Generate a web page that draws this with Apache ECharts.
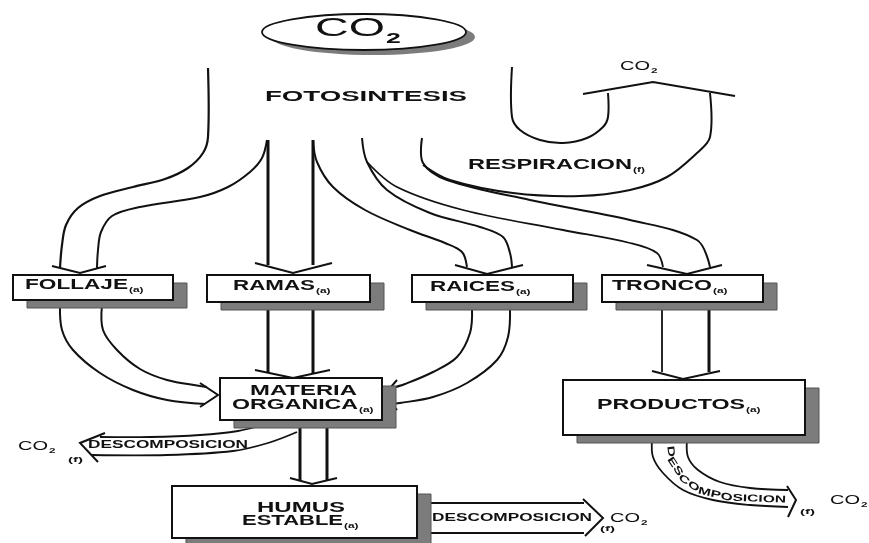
<!DOCTYPE html>
<html lang="es">
<head>
<meta charset="UTF-8">
<title>Flujo de carbono</title>
<script src="https://cdn.jsdelivr.net/npm/echarts@6/dist/echarts.min.js"></script>
<style>
    html, body { margin: 0; padding: 0; background: #fff; }
    #main { width: 869px; height: 543px; }
</style>
</head>
<body>
<div id="main"></div>
<script>
    // cajas del diagrama (coordenadas en unidades del eje, 0..869 x 0..543)
    var boxNames = ['FOLLAJE', 'RAMAS', 'RAICES', 'TRONCO', 'MATERIA ORGANICA', 'PRODUCTOS', 'HUMUS ESTABLE'];
    var boxLeft = [13, 207, 412, 602, 220, 563, 172];
    var boxTop = [275, 275, 275, 275, 378, 380, 486];
    var boxRight = [173, 370, 573, 763, 382, 805, 417];
    var boxBottom = [300, 302, 302, 302, 420, 435, 538];

    // textos
    var labelText = ['CO', 'FOTOSINTESIS', 'CO', 'RESPIRACION', 'FOLLAJE', 'RAMAS', 'RAICES', 'TRONCO',
        'MATERIA', 'ORGANICA', 'PRODUCTOS', 'HUMUS', 'ESTABLE', 'DESCOMPOSICION', 'CO', '(f)',
        'DESCOMPOSICION', 'CO', '(f)', 'CO', '(f)'];
    var labelSub = ['2', '', '2', '(f)', '(a)', '(a)', '(a)', '(a)',
        '', '(a)', '(a)', '', '(a)', '', '2', '',
        '', '2', '', '2', ''];
    // inicio, centro vertical y ancho que ocupa cada texto
    var labelX = [315, 265, 620, 468, 25, 233, 430, 612, 250, 232, 597, 257, 242, 88, 18, 68, 432, 610, 600, 830, 800];
    var labelY = [29, 97, 66, 165, 285, 286, 287, 286, 391, 405, 405, 508, 521, 445, 446, 460, 518, 518, 529, 500, 512];
    var labelWidth = [70, 202, 30, 164, 103, 82, 85, 100, 107, 126, 148, 88, 101, 160, 30, 15, 160, 30, 15, 30, 15];
    var labelSize = [25, 14, 13, 14, 14, 14, 14, 14, 14, 14, 14, 14, 14, 10, 13, 7, 10, 13, 7, 13, 7];
    var labelBold = [0, 1, 0, 1, 1, 1, 1, 1, 1, 1, 1, 1, 1, 1, 0, 1, 1, 0, 1, 0, 1];

    var curvedText = 'DESCOMPOSICION';
    var curvedPath = [[670, 446], [672, 462], [683, 479], [700, 491], [730, 498], [786, 500]];

    // CO2 de la atmosfera
    var cloud = [364, 32, 102, 18];

    // lineas de flujo
    var flowLines = [
        // fotosintesis -> follaje
        [[208, 68], [208, 137], [203, 153], [188, 168], [165, 179], [133, 187], [100, 196], [78, 208], [66, 225], [62, 245], [60, 268]],
        [[267, 140], [262, 158], [250, 172], [228, 187], [200, 197], [140, 207], [112, 216], [101, 232], [98, 250], [97, 268]],
        // -> ramas
        [[268, 140], [268, 265]],
        [[313, 140], [313, 265]],
        // -> raices
        [[313, 140], [317, 162], [333, 187], [365, 210], [410, 230], [445, 243], [462, 252], [467, 267]],
        [[362, 138], [367, 162], [387, 190], [430, 213], [480, 227], [503, 237], [510, 253], [512, 267]],
        // -> tronco
        [[367, 162], [397, 187], [463, 210], [563, 230], [630, 243], [657, 253], [663, 267]],
        [[422, 138], [423, 163], [447, 180], [530, 200], [630, 220], [697, 240], [710, 267]],
        // respiracion
        [[423, 165], [450, 180], [513, 193], [580, 196], [630, 190], [667, 177], [697, 153], [710, 137], [710, 93]],
        [[512, 67], [512, 117], [520, 130], [540, 140], [563, 143], [587, 138], [603, 127], [608, 117], [608, 93]],
        // follaje -> materia organica
        [[60, 305], [62, 330], [73, 350], [100, 373], [133, 390], [167, 400], [205, 404]],
        [[102, 305], [103, 330], [117, 350], [140, 369], [167, 380], [200, 386], [207, 387]],
        // ramas -> materia organica
        [[268, 308], [268, 373]],
        [[313, 308], [313, 373]],
        // raices -> materia organica
        [[472, 308], [470, 333], [457, 357], [433, 372], [405, 384], [392, 388]],
        [[510, 308], [508, 337], [497, 360], [467, 383], [433, 397], [400, 403], [390, 404]],
        // tronco -> productos
        [[662, 305], [662, 372]],
        [[709, 305], [709, 372]],
        // materia organica -> descomposicion
        [[263, 425], [238, 431], [200, 435], [150, 437], [100, 437]],
        [[297, 432], [268, 443], [233, 451], [167, 455], [92, 455]],
        // materia organica -> humus
        [[300, 425], [300, 481]],
        [[327, 425], [327, 481]],
        // humus -> descomposicion
        [[420, 503], [584, 503]],
        [[420, 533], [584, 533]],
        // productos -> descomposicion
        [[652, 440], [653, 457], [663, 473], [683, 490], [713, 500], [750, 505], [788, 507]],
        [[687, 440], [688, 457], [698, 470], [720, 482], [750, 488], [788, 490]]
    ];
    var flowWidth = [2.2, 2, 3, 3, 2, 2, 1.8, 2, 2, 2, 2, 2, 3, 3, 2, 2, 1.8, 3, 1.8, 1.8, 3, 3, 2, 2, 1.8, 1.8];

    // puntas de flecha
    var heads = [
        [[52, 266], [80, 273], [106, 266]],
        [[255, 263], [293, 273], [332, 263]],
        [[455, 265], [487, 274], [523, 265]],
        [[647, 265], [687, 274], [722, 265]],
        [[583, 94], [653, 82], [735, 96]],
        [[200, 383], [218, 395], [200, 407]],
        [[255, 370], [293, 378], [330, 370]],
        [[397, 380], [384, 395], [397, 410]],
        [[652, 371], [683, 379], [720, 371]],
        [[105, 433], [80, 443], [98, 462]],
        [[290, 478], [312, 484], [337, 478]],
        [[583, 499], [603, 518], [585, 536]],
        [[787, 486], [796, 500], [788, 517]]
    ];

    var ink = '#111';
    var shade = '#7c7c7c';
    var font = '"Liberation Sans", Arial, sans-serif';

    var ctx = document.createElement('canvas').getContext('2d');
    function textWidth(t, size, weight) {
        ctx.font = (weight || 'normal') + ' ' + size + 'px ' + font;
        return ctx.measureText(t).width;
    }

    function pt(api, p) { return api.coord(p); }

    function renderFlow(params, api) {
        var i = params.dataIndex;
        var pts = flowLines[i].map(function (p) { return pt(api, p); });
        return {
            type: 'polyline',
            shape: { points: pts, smooth: pts.length > 2 ? 0.35 : 0 },
            style: { stroke: ink, lineWidth: flowWidth[i], fill: null }
        };
    }

    function renderHead(params, api) {
        var pts = heads[params.dataIndex].map(function (p) { return pt(api, p); });
        return {
            type: 'polyline',
            shape: { points: pts },
            style: { stroke: ink, lineWidth: 2, fill: null, lineJoin: 'miter' }
        };
    }

    function renderCloud(params, api) {
        var c = pt(api, [cloud[0], cloud[1]]);
        var e = pt(api, [cloud[0] + cloud[2], cloud[1] + cloud[3]]);
        var rx = Math.abs(e[0] - c[0]), ry = Math.abs(e[1] - c[1]);
        return {
            type: 'group',
            children: [
                { type: 'ellipse', shape: { cx: c[0] + 9, cy: c[1] + 5, rx: rx, ry: ry }, style: { fill: shade } },
                { type: 'ellipse', shape: { cx: c[0], cy: c[1], rx: rx, ry: ry }, style: { fill: '#fff', stroke: ink, lineWidth: 1.8 } }
            ]
        };
    }

    function renderBox(params, api) {
        var i = params.dataIndex;
        var a = pt(api, [boxLeft[i], boxTop[i]]);
        var b = pt(api, [boxRight[i], boxBottom[i]]);
        var w = b[0] - a[0], h = b[1] - a[1];
        return {
            type: 'group',
            children: [
                { type: 'rect', shape: { x: a[0] + 14, y: a[1] + 8, width: w, height: h }, style: { fill: shade, stroke: '#555', lineWidth: 1 } },
                { type: 'rect', shape: { x: a[0], y: a[1], width: w, height: h }, style: { fill: '#fff', stroke: ink, lineWidth: 2 } }
            ]
        };
    }

    function renderLabel(params, api) {
        var i = params.dataIndex;
        var p = pt(api, [labelX[i], labelY[i]]);
        var size = labelSize[i];
        var weight = labelBold[i] ? 'bold' : 'normal';
        var w0 = textWidth(labelText[i], size, weight);
        var s = labelWidth[i] / w0;
        var kids = [{
            type: 'text', x: p[0], y: p[1], scaleX: s,
            style: { text: labelText[i], fontSize: size, fontWeight: weight, fontFamily: font, fill: ink, align: 'left', verticalAlign: 'middle' }
        }];
        if (labelSub[i]) {
            var isNum = labelSub[i] === '2';
            var subSize = isNum ? Math.round(size * 0.6) : 7;
            var sx = p[0] + w0 * s + 1;
            kids.push({
                type: 'text', x: sx, y: p[1] + size * 0.38, scaleX: isNum ? s * 0.95 : 1.7,
                style: { text: labelSub[i], fontSize: subSize, fontWeight: 'bold', fontFamily: font, fill: ink, align: 'left', verticalAlign: 'middle' }
            });
        }
        return { type: 'group', children: kids };
    }

    function renderCurved(params, api) {
        var pts = curvedPath.map(function (p) { return pt(api, p); });
        var seg = [], total = 0;
        for (var k = 1; k < pts.length; k++) {
            var d = Math.hypot(pts[k][0] - pts[k - 1][0], pts[k][1] - pts[k - 1][1]);
            seg.push(d);
            total += d;
        }
        var size = 10;
        var widths = curvedText.split('').map(function (ch) { return textWidth(ch, size, 'bold'); });
        var natural = widths.reduce(function (a, b) { return a + b; }, 0);
        var s = total / natural;
        var kids = [], acc = 0;
        widths.forEach(function (w, j) {
            var dist = acc + w * s / 2;
            acc += w * s;
            var k = 0, rest = dist;
            while (k < seg.length - 1 && rest > seg[k]) { rest -= seg[k]; k++; }
            var p0 = pts[k], p1 = pts[k + 1];
            var f = Math.min(1, rest / seg[k]);
            var x = p0[0] + (p1[0] - p0[0]) * f;
            var y = p0[1] + (p1[1] - p0[1]) * f;
            var ang = Math.atan2(p1[1] - p0[1], p1[0] - p0[0]);
            kids.push({
                type: 'text', x: x, y: y, rotation: -ang, scaleX: s,
                style: { text: curvedText[j], fontSize: size, fontWeight: 'bold', fontFamily: font, fill: ink, align: 'center', verticalAlign: 'middle' }
            });
        });
        return { type: 'group', children: kids };
    }

    var myChart = echarts.init(document.getElementById('main'));

    var option = {
        animation: false,
        backgroundColor: '#fff',
        grid: { left: 0, right: 0, top: 0, bottom: 0 },
        xAxis: { type: 'value', min: 0, max: 869, show: false },
        yAxis: { type: 'value', min: 0, max: 543, inverse: true, show: false },
        series: [
            { type: 'custom', z: 1, clip: false, renderItem: renderFlow, data: flowLines.map(function (l) { return l[0]; }) },
            { type: 'custom', z: 1, clip: false, renderItem: renderHead, data: heads.map(function (h) { return h[1]; }) },
            { type: 'custom', z: 2, clip: false, renderItem: renderCloud, data: [[cloud[0], cloud[1]]] },
            { type: 'custom', z: 3, clip: false, renderItem: renderBox, data: boxNames.map(function (n, i) { return [boxLeft[i], boxTop[i]]; }) },
            { type: 'custom', z: 4, clip: false, renderItem: renderLabel, data: labelText.map(function (t, i) { return [labelX[i], labelY[i]]; }) },
            { type: 'custom', z: 4, clip: false, renderItem: renderCurved, data: [curvedPath[0]] }
        ]
    };

    myChart.setOption(option);
</script>
</body>
</html>
